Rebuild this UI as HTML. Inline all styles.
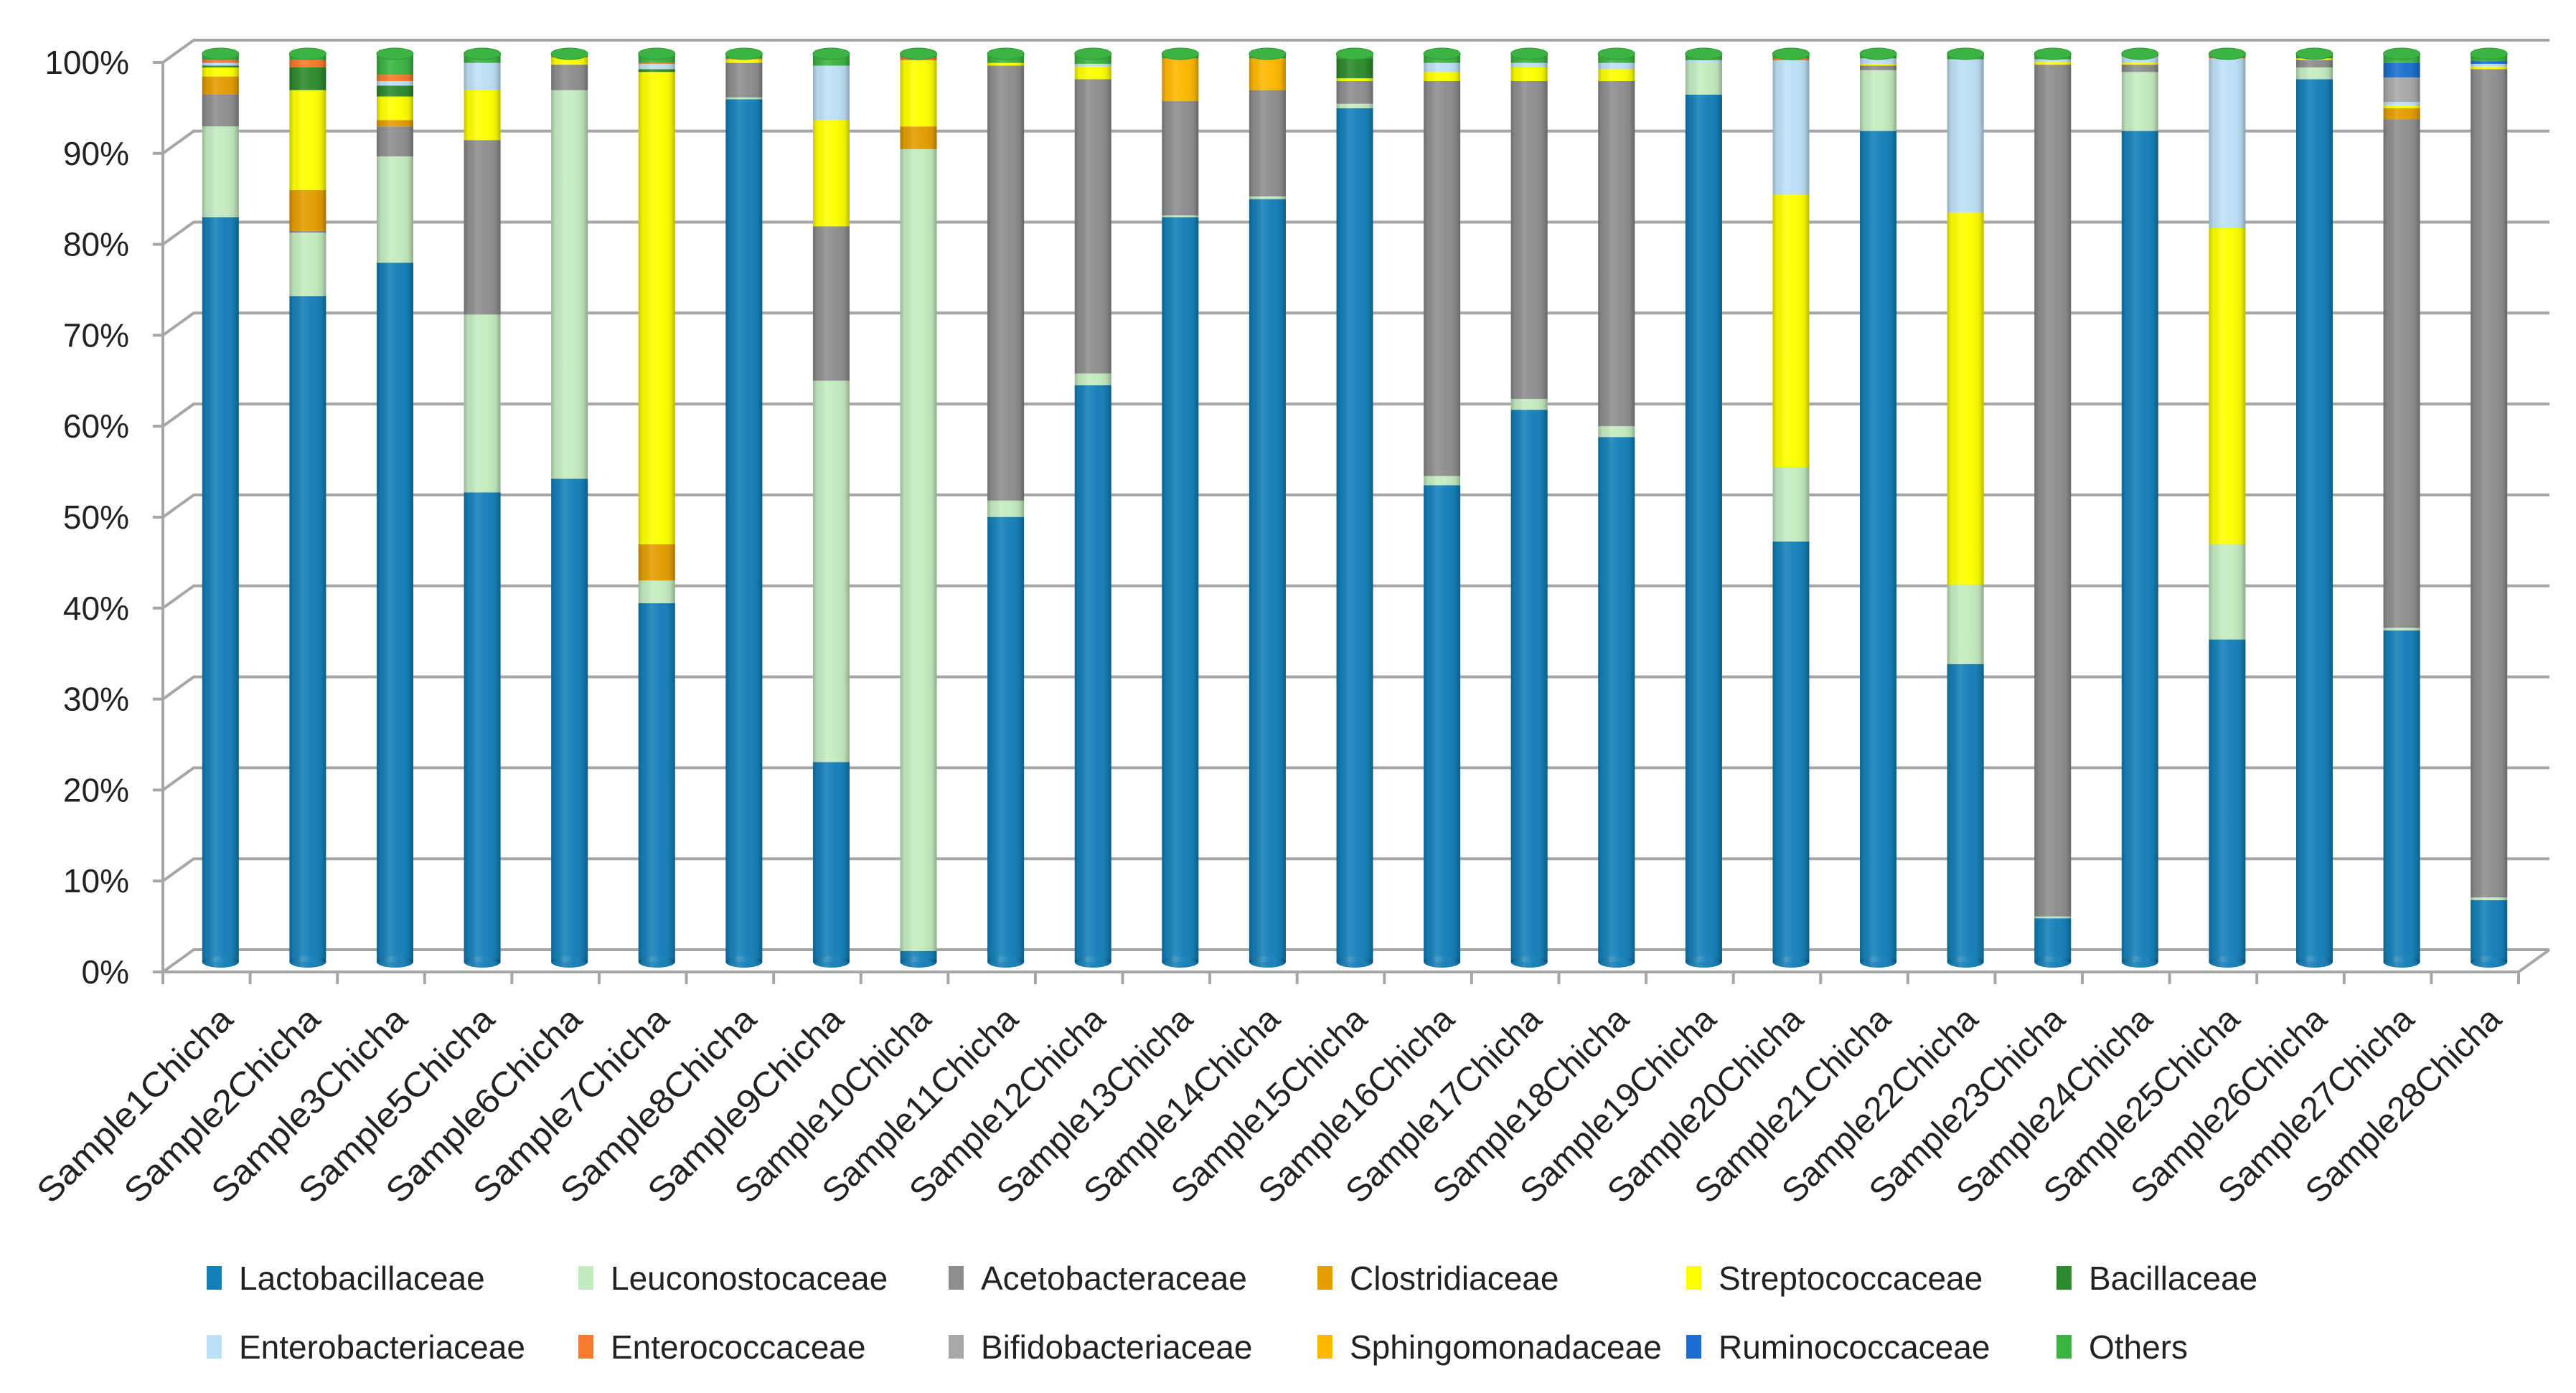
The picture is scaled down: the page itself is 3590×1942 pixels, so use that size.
<!DOCTYPE html>
<html><head><meta charset="utf-8"><style>
html,body{margin:0;padding:0;background:#fff}
svg{display:block}
text{font-family:"Liberation Sans",sans-serif;fill:#222}
</style></head><body>
<svg id="chart" xmlns="http://www.w3.org/2000/svg" width="3590" height="1942" viewBox="0 0 3590 1942">
<defs>
<linearGradient id="shade" x1="0" x2="1" y1="0" y2="0">
<stop offset="0" stop-color="#000" stop-opacity="0.22"/>
<stop offset="0.12" stop-color="#000" stop-opacity="0.05"/>
<stop offset="0.35" stop-color="#fff" stop-opacity="0.12"/>
<stop offset="0.6" stop-color="#fff" stop-opacity="0.02"/>
<stop offset="0.88" stop-color="#000" stop-opacity="0.08"/>
<stop offset="1" stop-color="#000" stop-opacity="0.28"/>
</linearGradient>
</defs>
<g id="grid"></g>
<g id="bars"></g>
<g id="yaxis"></g>
<g id="xaxis"></g>
<g id="legend"></g>
</svg>
<script>
const categories = ["Sample1Chicha","Sample2Chicha","Sample3Chicha","Sample5Chicha","Sample6Chicha","Sample7Chicha","Sample8Chicha","Sample9Chicha","Sample10Chicha","Sample11Chicha","Sample12Chicha","Sample13Chicha","Sample14Chicha","Sample15Chicha","Sample16Chicha","Sample17Chicha","Sample18Chicha","Sample19Chicha","Sample20Chicha","Sample21Chicha","Sample22Chicha","Sample23Chicha","Sample24Chicha","Sample25Chicha","Sample26Chicha","Sample27Chicha","Sample28Chicha"];
const seriesNames = ["Lactobacillaceae","Leuconostocaceae","Acetobacteraceae","Clostridiaceae","Streptococcaceae","Bacillaceae","Enterobacteriaceae","Enterococcaceae","Bifidobacteriaceae","Sphingomonadaceae","Ruminococcaceae","Others"];
const seriesColors = ["#1580b8","#c4ebc0","#8e8e8e","#e39d00","#ffff00","#2e8a2e","#bde0f5","#f47c2c","#a8a8a8","#ffb800","#1c6fd0","#3db343"];
const lactobacillaceae = [82,73.3,77,51.7,53.2,39.5,95,22,1.2,49,63.5,82,84,94,52.5,60.8,57.8,95.5,46.3,91.5,32.8,4.8,91.5,35.5,97.2,36.5,6.8];
const leuconostocaceae = [10,7,11.7,19.6,42.8,2.5,0.2,42,88.3,1.8,1.3,0.2,0.3,0.5,1,1.2,1.2,3.5,8.2,6.7,8.7,0.2,6.5,10.5,1.3,0.3,0.3];
const acetobacteraceae = [3.5,0.2,3.3,19.2,2.8,0,3.8,17,0,47.9,32.4,12.6,11.7,2.5,43.5,35,38,0,0,0.5,0,93.8,0.8,0,0.8,56,91.2];
const clostridiaceae = [2,4.5,0.7,0,0,4,0,0,2.5,0,0,0,0,0,0,0,0,0,0,0,0,0,0,0,0,1.2,0];
const streptococcaceae = [1,11,2.6,5.5,0.8,52,0.4,11.7,7.3,0.3,1.4,0,0,0.3,1,1.5,1.3,0,30,0.2,41,0.3,0.2,34.8,0.2,0.3,0.3];
const bacillaceae = [0.2,2.5,1.2,0,0,0.3,0,0,0,0,0,0,0,2.2,0,0,0,0,0,0,0,0,0,0,0,0,0];
const enterobacteriaceae = [0.3,0,0.5,3,0,0.6,0,6,0,0,0.3,0,0,0,1,0.5,0.7,0.3,14.8,0.6,16.9,0.3,0.7,18.7,0,0.4,0.3];
const enterococcaceae = [0.3,0.8,0.7,0,0.1,0.1,0.1,0,0.3,0,0,0,0,0,0,0,0,0,0.2,0,0,0,0,0.1,0,0,0];
const bifidobacteriaceae = [0,0,0,0,0,0,0,0,0,0,0,0,0,0,0,0,0,0,0,0,0,0,0,0,0,2.7,0];
const sphingomonadaceae = [0,0,0,0,0,0,0,0,0,0,0,4.7,3.5,0,0,0,0,0,0,0,0,0,0,0,0,0,0];
const ruminococcaceae = [0,0,0,0,0,0,0,0,0,0,0,0,0,0,0,0,0,0,0,0,0,0,0,0,0,1.6,0.3];
const others = [0.7,0.7,2.3,1,0.3,1,0.5,1.3,0.4,1,1.1,0.5,0.5,0.5,1,1,1,0.7,0.5,0.5,0.6,0.6,0.3,0.4,0.5,1,0.8];
const yTicks = [0,10,20,30,40,50,60,70,80,90,100];
const yTickLabels = ["0%","10%","20%","30%","40%","50%","60%","70%","80%","90%","100%"];

const allSeries = [lactobacillaceae,leuconostocaceae,acetobacteraceae,clostridiaceae,streptococcaceae,bacillaceae,enterobacteriaceae,enterococcaceae,bifidobacteriaceae,sphingomonadaceae,ruminococcaceae,others];
const NS = "http://www.w3.org/2000/svg";
function mk(tag, attrs, parent){const e=document.createElementNS(NS,tag);for(const k in attrs)e.setAttribute(k,attrs[k]);parent.appendChild(e);return e;}
const FX0=227, FX1=3510, F0=1355, F100=87;
const DX=43, DY=-31;
const BAR0=1341, BAR100=75, BW=51;
function yFront(v){return F0-(v/100)*(F0-F100);}
function yBar(v){return BAR0-(v/100)*(BAR0-BAR100);}
const n=categories.length, step=(FX1-FX0)/n;
function xCenter(i){return FX0+step*(i+0.5)+DX/2-2;}

const grid=document.getElementById('grid');
const gstyle={stroke:"#a6a6a6","stroke-width":4,fill:"none"};
yTicks.forEach((t,i)=>{
  const yf=yFront(t);
  const g=mk('polyline',Object.assign({points:`${FX0-14},${yf} ${FX0},${yf} ${FX0+DX},${yf+DY} ${FX1+DX},${yf+DY}`},gstyle),grid);
  
  
});
let e1=mk('line',Object.assign({x1:FX0,y1:F0,x2:FX0,y2:F100},gstyle),grid);


let e2=mk('polyline',Object.assign({points:`${FX0},${F0} ${FX1},${F0} ${FX1+DX},${F0+DY}`},gstyle),grid);


for(let i=0;i<=n;i++){
  const x=FX0+step*i;
  const t=mk('line',Object.assign({x1:x,y1:F0,x2:x,y2:F0+17},gstyle),grid);
  
  
}

const bars=document.getElementById('bars');
const RY=8;
categories.forEach((c,i)=>{
  const total=allSeries.reduce((s,a)=>s+a[i],0);
  const g=mk('g',{},bars);
  
  
  const cx=xCenter(i), x0=cx-BW/2;
  let cum=0, lastColor=seriesColors[0];
  const be=mk('ellipse',{cx:cx,cy:yBar(0),rx:BW/2,ry:RY,fill:seriesColors[0]},g);
  
  
  allSeries.forEach((arr,s)=>{
    const v=arr[i]/total*100;
    if(v<=0)return;
    const yTop=yBar(cum+v), yBot=yBar(cum);
    const r=mk('rect',{x:x0,y:yTop,width:BW,height:Math.max(0.5,yBot-yTop),fill:seriesColors[s]},g);
    
    
    cum+=v; lastColor=seriesColors[s];
  });
  const sh=mk('rect',{x:x0,y:yBar(cum),width:BW,height:yBar(0)-yBar(cum),fill:"url(#shade)"},g);
  
  
  const bs=mk('ellipse',{cx:cx,cy:yBar(0),rx:BW/2,ry:RY,fill:"url(#shade)"},g);
  
  
  const top=mk('ellipse',{cx:cx,cy:yBar(cum),rx:BW/2,ry:RY,fill:lastColor,stroke:"#2a9a30","stroke-width":1},g);
  
  
});

const yaxis=document.getElementById('yaxis');
yTicks.forEach((t,i)=>{
  const tx=mk('text',{x:180,y:yFront(t)+16,"font-size":46,"text-anchor":"end"},yaxis);
  tx.textContent=yTickLabels[i];
  
  
});
const xaxis=document.getElementById('xaxis');
categories.forEach((c,i)=>{
  const x=xCenter(i)+20, y=1424;
  const tx=mk('text',{x:x,y:y,"font-size":48,"text-anchor":"end",textLength:362,lengthAdjust:"spacingAndGlyphs",transform:`rotate(-45 ${x} ${y})`},xaxis);
  tx.textContent=c;
  
  
});
const legend=document.getElementById('legend');
const colX=[288,806,1322,1836,2350,2866];
const rowY=[1782,1878];
seriesNames.forEach((nm,s)=>{
  const col=s%6, row=Math.floor(s/6);
  const g=mk('g',{},legend);
  
  
  const r=mk('rect',{x:colX[col],y:rowY[row]-17,width:21,height:33,fill:seriesColors[s]},g);
  
  
  const t=mk('text',{x:colX[col]+45,y:rowY[row]+16,"font-size":46},g);
  t.textContent=nm;
  
  
});
</script>
</body></html>
